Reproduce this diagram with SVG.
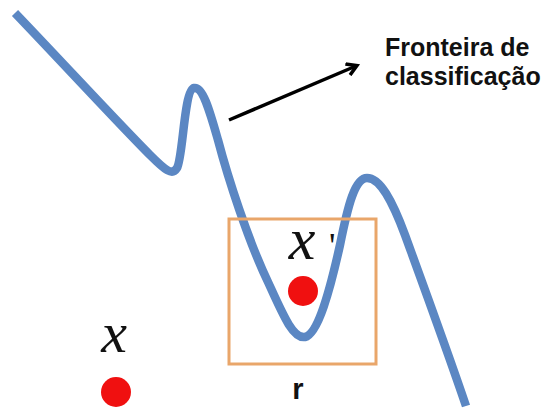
<svg xmlns="http://www.w3.org/2000/svg" width="541" height="415" viewBox="0 0 541 415">
<defs>
<style>
.curve{fill:none;stroke:#5b87c3;stroke-width:8.5;stroke-linecap:butt;stroke-linejoin:round}
.box{fill:none;stroke:#e9a66a;stroke-width:3}
.dot{fill:#f01010}
.lab{font-family:"Liberation Sans",Arial,sans-serif;font-weight:bold;fill:#111}
.math{font-family:"Liberation Serif","Times New Roman",serif;font-style:italic;fill:#111}
</style>
<marker id="ah" markerWidth="14" markerHeight="14" refX="10" refY="7" orient="auto" markerUnits="userSpaceOnUse">
<path d="M1,1 L11,7 L1,13" fill="none" stroke="#000" stroke-width="3.5" stroke-linejoin="miter"/>
</marker>
</defs>
<rect width="541" height="415" fill="#fff"/>
<g id="boundary">
<path class="curve" d="M15,13 C60,60 120,125 150,155 C165,170 172,176 177,168 C183,158 184,90 194,88 C203,86 210,112 218,140 C228,178 248,240 268,282 C283,315 293,339 305,337 C318,334 330,290 340,245 C348,205 355,178 367,178 C380,178 392,200 405,235 C425,290 447,350 466,406"/>
</g>
<g id="region">
<rect class="box" x="229" y="219" width="147" height="145"/>
<text class="lab" x="298" y="399" font-size="29" text-anchor="middle">r</text>
</g>
<g id="xprime">
<circle class="dot" cx="303" cy="291" r="15"/>
<text class="math" x="302" y="259" font-size="60" text-anchor="middle">x</text>
<text x="329" y="258" font-size="36" font-family="'Liberation Serif',serif" fill="#111">'</text>
</g>
<g id="x">
<circle class="dot" cx="116" cy="392" r="15"/>
<text class="math" x="114" y="352" font-size="58" text-anchor="middle">x</text>
</g>
<g id="label">
<text class="lab" x="385" y="56" font-size="25">Fronteira de</text>
<text class="lab" x="385" y="85" font-size="25">classificação</text>
</g>
<g id="connectors">
<line x1="229" y1="120" x2="356" y2="66" stroke="#000" stroke-width="3.5" marker-end="url(#ah)"/>
</g>
</svg>
